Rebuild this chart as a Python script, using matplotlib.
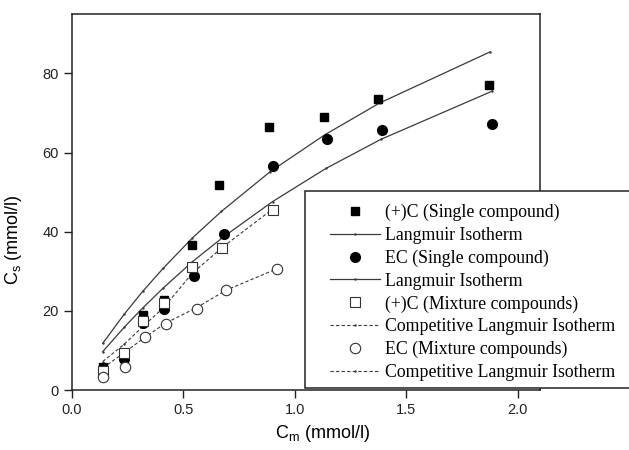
import numpy as np
import matplotlib
matplotlib.use('Agg')
import matplotlib.pyplot as plt
from matplotlib.patches import Rectangle

plt.rcParams['font.family'] = ['Liberation Sans', 'DejaVu Sans']
plt.rcParams['mathtext.default'] = 'regular'

# (+)C single compound, measured
c_single_x = [0.138, 0.233, 0.317, 0.411, 0.537, 0.661, 0.885, 1.131, 1.375, 1.869]
c_single_y = [5.9, 9.3, 19.0, 22.8, 36.7, 51.9, 66.5, 69.1, 73.6, 77.0]
# EC single compound, measured
ec_single_x = [0.14, 0.235, 0.317, 0.414, 0.548, 0.682, 0.904, 1.142, 1.389, 1.885]
ec_single_y = [5.2, 7.8, 17.0, 20.4, 28.7, 39.5, 56.5, 63.5, 65.6, 67.3]
# (+)C mixture, measured
c_mix_x = [0.138, 0.233, 0.317, 0.411, 0.540, 0.674, 0.900]
c_mix_y = [4.8, 9.4, 17.5, 21.9, 31.0, 35.8, 45.4]
# EC mixture, measured
ec_mix_x = [0.140, 0.238, 0.327, 0.420, 0.559, 0.691, 0.918]
ec_mix_y = [3.3, 5.9, 13.3, 16.7, 20.5, 25.3, 30.6]

# Langmuir isotherm curves
lang_c_x = [0.138, 0.235, 0.317, 0.41, 0.54, 0.67, 0.89, 1.135, 1.38, 1.875]
lang_c_y = [11.8, 19.2, 24.9, 30.8, 38.4, 45.1, 55.2, 64.5, 72.5, 85.4]
lang_ec_x = [0.138, 0.235, 0.317, 0.41, 0.54, 0.68, 0.9, 1.14, 1.385, 1.885]
lang_ec_y = [9.7, 15.9, 20.7, 25.8, 32.4, 38.7, 47.6, 56.0, 63.3, 75.5]
# competitive Langmuir curves
comp_c_x = [0.138, 0.233, 0.317, 0.411, 0.540, 0.674, 0.900]
comp_c_y = [7.2, 11.5, 16.0, 20.8, 29.5, 36.0, 45.7]
comp_ec_x = [0.140, 0.238, 0.327, 0.420, 0.559, 0.691, 0.918]
comp_ec_y = [5.6, 9.6, 13.3, 16.9, 20.8, 25.2, 30.6]

fig = plt.figure(figsize=(6.29, 4.5), dpi=100)
ax = fig.add_axes([72/629, 60/450, 468/629, 376/450])

lc = '#3a3a3a'
h1, = ax.plot(c_single_x, c_single_y, 's', color='black', ms=6, ls='none')
h2, = ax.plot(lang_c_x, lang_c_y, '-', color=lc, lw=0.9, marker='.', ms=1.5)
h3, = ax.plot(ec_single_x, ec_single_y, 'o', color='black', ms=7, ls='none')
h4, = ax.plot(lang_ec_x, lang_ec_y, '-', color=lc, lw=0.9, marker='.', ms=1.5)
h5, = ax.plot(c_mix_x, c_mix_y, 's', mfc='white', mec='#333333', mew=0.8, ms=6.5, ls='none')
h6, = ax.plot(comp_c_x, comp_c_y, '--', color=lc, lw=0.8, dashes=(3, 2), marker='.', ms=1.5)
h7, = ax.plot(ec_mix_x, ec_mix_y, 'o', mfc='white', mec='#333333', mew=0.8, ms=7.5, ls='none')
h8, = ax.plot(comp_ec_x, comp_ec_y, '--', color=lc, lw=0.8, dashes=(3, 2), marker='.', ms=1.5)

# keep markers on top of the lines
for h in (h1, h3, h5, h7):
    h.set_zorder(3)

ax.set_xlim(0, 2.1)
ax.set_ylim(0, 95)
ax.set_xticks([0.0, 0.5, 1.0, 1.5, 2.0])
ax.set_yticks([0, 20, 40, 60, 80])
ax.xaxis.set_major_formatter(matplotlib.ticker.FormatStrFormatter('%.1f'))
ax.tick_params(direction='out', length=6, width=1, labelsize=10.5, colors='#222222')
for s in ax.spines.values():
    s.set_linewidth(1.1)
    s.set_color('#222222')

ax.set_xlabel('C$_m$ (mmol/l)', fontsize=13)
ax.set_ylabel('C$_s$ (mmol/l)', fontsize=13)
ax.xaxis.set_label_coords(0.536, -0.088)
ax.yaxis.set_label_coords(-0.103, 0.40)

# legend box runs off the right edge of the figure
box = Rectangle((305/629, 62/450), 0.6, 197/450, transform=fig.transFigure,
                facecolor='white', edgecolor='#222222', lw=1.1, zorder=2)
fig.patches.append(box)

labels = ['(+)C (Single compound)', 'Langmuir Isotherm',
          'EC (Single compound)', 'Langmuir Isotherm',
          '(+)C (Mixture compounds)', 'Competitive Langmuir Isotherm',
          'EC (Mixture compounds)', 'Competitive Langmuir Isotherm']
leg = fig.legend([h1, h2, h3, h4, h5, h6, h7, h8], labels,
                 loc='upper left', bbox_to_anchor=(330/629, 1 - 204/450),
                 frameon=False, prop={'family': 'Liberation Serif', 'size': 12.8},
                 handlelength=2.8, handletextpad=0.3, labelspacing=0.32,
                 borderaxespad=0, borderpad=0)
leg.set_zorder(5)

fig.savefig('out.png', dpi=100)
